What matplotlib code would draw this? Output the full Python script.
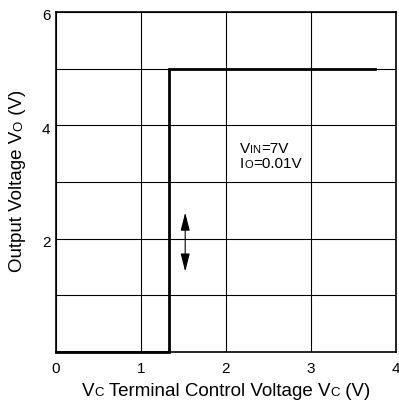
import numpy as np
import matplotlib
matplotlib.use('Agg')
import matplotlib.pyplot as plt
from matplotlib.transforms import IdentityTransform, ScaledTranslation

plt.rcParams['font.family'] = ['Liberation Sans', 'DejaVu Sans']

#--------- data ---------
vc = [0, 1.33, 1.33, 3.75]          # V  terminal control voltage
vo = [0, 0, 5, 5]                   # V  output voltage
x_ticks = [0, 1, 2, 3, 4]
y_ticks = [1, 2, 3, 4, 5, 6]
y_ticklabels = ['', '2', '', '4', '', '6']
arrow_x = 1.52
arrow_y = [2.46, 1.42]

#--------- figure ---------
fig = plt.figure(figsize=(3.99, 4.03), dpi=100)
ax = fig.add_axes([56/399, 51/403, 340/399, 340/403])

ax.plot(vc, vo, color='black', lw=2.0, solid_joinstyle='miter', zorder=3, clip_on=False)

ax.set_xlim(0, 4)
ax.set_ylim(0, 6)
ax.set_xticks(x_ticks)
ax.set_yticks(y_ticks)
ax.set_yticklabels(y_ticklabels)
ax.tick_params(length=0, labelsize=11, colors='black')
ax.tick_params(axis='x', pad=7)
ax.tick_params(axis='y', pad=4)
# nudge y labels down a little
off = ScaledTranslation(0, -3/100, fig.dpi_scale_trans)
for lab in ax.get_yticklabels():
    lab.set_transform(lab.get_transform() + off)

ax.grid(True, color='black', lw=0.8)
ax.set_axisbelow(True)
for s in ax.spines.values():
    s.set_linewidth(1.2)

# double arrow
ax.annotate('', xy=(arrow_x, arrow_y[0]), xytext=(arrow_x, arrow_y[1]),
            arrowprops=dict(arrowstyle='<|-|>,head_length=1.1,head_width=0.28',
                            color='black', lw=0.8, shrinkA=0, shrinkB=0))


#--------- text with small-cap subscripts ---------
def run_text(x, y, pieces, rot=0):
    r = fig.canvas.get_renderer()
    for s, size in pieces:
        t = fig.text(x, y, s, fontsize=size, rotation=rot, rotation_mode='anchor',
                     ha='left', va='baseline', transform=IdentityTransform())
        bb = t.get_window_extent(r)
        if rot == 0:
            x += bb.width
        else:
            y += bb.height

BIG = 13.5
SMALL = 9.5
run_text(82, 7.5, [('V', BIG), ('C', SMALL), (' Terminal Control Voltage V', BIG),
                   ('C', SMALL), (' (V)', BIG)])
run_text(22.5, 131, [('Output Voltage V', BIG), ('O', SMALL), (' (V)', BIG)], rot=90)

p1 = ax.transData.transform((2.165, 3.517))
p2 = ax.transData.transform((2.165, 3.24))
run_text(p1[0], p1[1], [('V', 11), ('IN', 8), ('=7V', 11)])
run_text(p2[0], p2[1], [('I', 11), ('O', 8), ('=0.01V', 11)])

fig.savefig('out.png', dpi=100)
